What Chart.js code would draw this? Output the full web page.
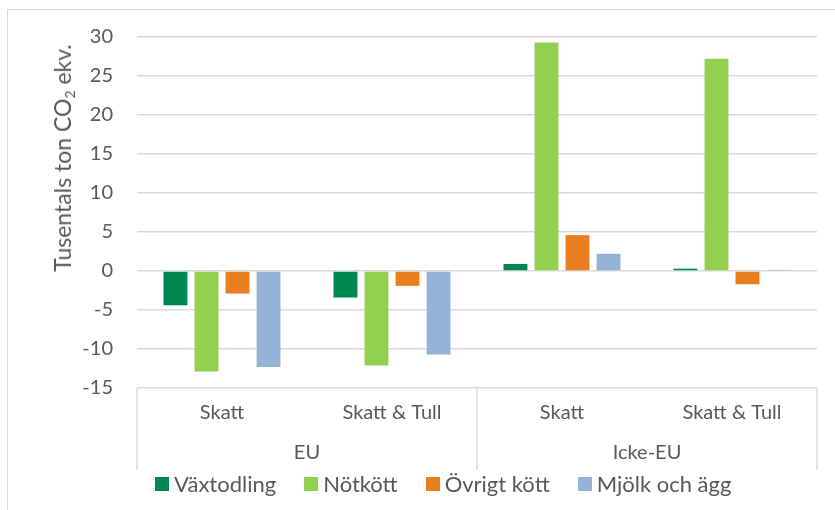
<!DOCTYPE html>
<html>
<head>
<meta charset="utf-8">
<script src="https://cdn.jsdelivr.net/npm/chart.js@4.4.1/dist/chart.umd.min.js"></script>
<style>
  html, body { margin: 0; padding: 0; background: #fff; }
  body { width: 835px; height: 510px; position: relative; overflow: hidden; font-family: Lato, sans-serif; }
  .frame { position: absolute; left: 7px; top: 9px; width: 900px; height: 600px; border: 1px solid #d9d9d9; }
  #chart { position: absolute; left: 0; top: 0; }
  .ytitle {
    position: absolute; left: 62px; top: 158px; transform: translate(-50%, -50%) rotate(-90deg);
    white-space: nowrap; font-size: 23px; color: #595959;
  }
  .ytitle sub { font-size: 14px; vertical-align: -4px; line-height: 0; }
  .legend { position: absolute; left: 155px; top: 470px; display: flex; font-size: 22px; color: #595959; }
  .legend span { display: flex; align-items: center; margin-right: 28px; }
  .legend i { display: inline-block; width: 14px; height: 14px; margin-right: 5px; }
</style>
</head>
<body>
<div class="frame"></div>
<canvas id="chart" width="835" height="510"></canvas>
<div class="ytitle">Tusentals ton CO<sub>2</sub> ekv.</div>
<div class="legend" id="legend"></div>
<script>
const subLabels = ['Skatt', 'Skatt & Tull', 'Skatt', 'Skatt & Tull'];
const groupLabels = ['EU', 'Icke-EU'];

const vaxtodling = [-4.4, -3.4, 0.9, 0.3];
const notkott = [-12.9, -12.1, 29.3, 27.2];
const ovrigtKott = [-2.9, -1.9, 4.6, -1.7];
const mjolkOchAgg = [-12.3, -10.7, 2.2, 0.15];

const seriesNames = ['Växtodling', 'Nötkött', 'Övrigt kött', 'Mjölk och ägg'];
const seriesColors = ['#00874f', '#92d050', '#e97e1f', '#95b3d7'];

const yTicks = [-15, -10, -5, 0, 5, 10, 15, 20, 25, 30];

const textColor = '#595959';
const gridColor = '#d9d9d9';

const datasets = [vaxtodling, notkott, ovrigtKott, mjolkOchAgg].map((data, i) => ({
  label: seriesNames[i],
  data: data,
  backgroundColor: seriesColors[i],
  borderWidth: 0,
  categoryPercentage: 0.73,
  barPercentage: 0.77,
}));

// vertical separators for the two-level category axis
const groupLines = {
  id: 'groupLines',
  afterDraw(chart) {
    const { ctx, chartArea } = chart;
    const x2 = chart.scales.x2;
    const mid = (chartArea.left + chartArea.right) / 2;
    ctx.save();
    ctx.strokeStyle = gridColor;
    ctx.lineWidth = 1.5;
    [chartArea.left, mid, chartArea.right].forEach(x => {
      ctx.beginPath();
      ctx.moveTo(x, chartArea.bottom);
      ctx.lineTo(x, x2.bottom);
      ctx.stroke();
    });
    ctx.restore();
  }
};

new Chart(document.getElementById('chart'), {
  type: 'bar',
  data: { labels: subLabels, datasets: datasets },
  plugins: [groupLines],
  options: {
    responsive: false,
    animation: false,
    layout: { padding: { top: 37, right: 18, bottom: 40, left: 0 } },
    plugins: {
      legend: { display: false },
      tooltip: { enabled: false },
    },
    scales: {
      y: {
        min: -15,
        max: 30,
        afterBuildTicks: (scale) => { scale.ticks = yTicks.map(v => ({ value: v })); },
        afterFit: (scale) => { scale.width = 137; },
        border: { display: false },
        grid: { color: gridColor, lineWidth: 1.5, drawTicks: false },
        ticks: { color: textColor, font: { family: 'Lato', size: 20 }, padding: 24 },
      },
      x: {
        afterFit: (scale) => { scale.height = 45; },
        border: { display: false },
        grid: { display: false },
        ticks: { color: textColor, font: { family: 'Lato', size: 20 }, padding: 5, maxRotation: 0, autoSkip: false },
      },
      x2: {
        type: 'category',
        labels: groupLabels,
        position: 'bottom',
        offset: true,
        weight: 1,
        afterFit: (scale) => { scale.height = 37; },
        border: { display: false },
        grid: { display: false },
        ticks: { color: textColor, font: { family: 'Lato', size: 20 }, padding: 0, maxRotation: 0 },
      },
    },
  },
});

// legend built from the same series names and colours
const legend = document.getElementById('legend');
seriesNames.forEach((name, i) => {
  const item = document.createElement('span');
  const box = document.createElement('i');
  box.style.background = seriesColors[i];
  item.appendChild(box);
  item.appendChild(document.createTextNode(name));
  legend.appendChild(item);
});
</script>
</body>
</html>
